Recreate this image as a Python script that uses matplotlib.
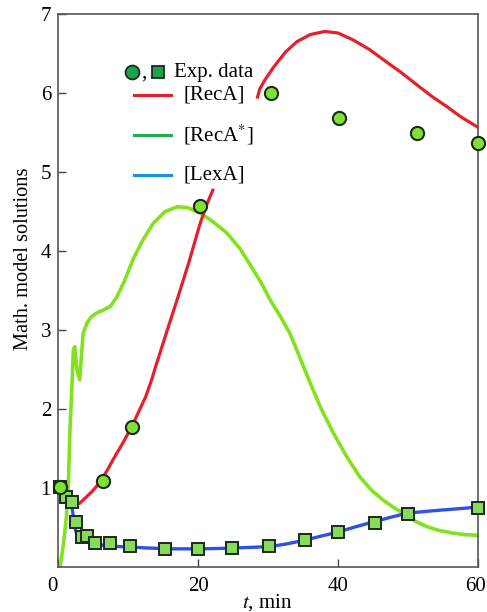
# RecA / RecA* / LexA model solutions vs experiment
import matplotlib
matplotlib.use('Agg')
import matplotlib.pyplot as plt
from matplotlib.lines import Line2D
from matplotlib.transforms import ScaledTranslation

plt.rcParams['font.family'] = ['Liberation Serif', 'DejaVu Serif']
plt.rcParams['mathtext.fontset'] = 'stix'

# model curves
t_reca1 = [0.5, 1.0, 1.5, 2.0, 2.4, 3.0, 3.5, 4.2, 4.8, 5.5, 6.0, 7.0, 8.0, 9.2, 10.5, 11.5,
           12.5, 13.3, 14.1, 15.5, 17.0, 18.7, 20.3, 21.2, 22.1]
reca1 = [1.0, 0.95, 0.88, 0.81, 0.78, 0.8, 0.84, 0.9, 0.95, 1.02, 1.08, 1.22, 1.38, 1.56, 1.77,
         1.96, 2.15, 2.35, 2.58, 2.97, 3.38, 3.86, 4.35, 4.58, 4.77]
t_reca2 = [28.5, 28.8, 29.5, 30.8, 32.5, 34.1, 36.0, 38.1, 40.0, 42.2, 44.5, 46.5, 49.0, 51.3,
           53.5, 55.5, 57.5, 59.9]
reca2 = [5.95, 6.05, 6.16, 6.33, 6.52, 6.65, 6.74, 6.78, 6.76, 6.67, 6.55, 6.42, 6.26, 6.1,
         5.95, 5.83, 5.7, 5.57]

t_recas = [0.3, 0.8, 1.2, 1.5, 1.7, 2.0, 2.2, 2.4, 2.7, 3.1, 3.6, 4.2, 4.8, 5.6, 6.4, 7.5, 8.4,
           9.5, 10.7, 12.0, 13.6, 15.3, 17.0, 18.5, 20.3, 22.0, 24.1, 26.0, 27.9, 29.0, 30.3,
           31.7, 33.1, 34.5, 36.0, 37.6, 39.3, 41.2, 43.1, 44.8, 46.4, 48.0, 49.3, 51.0, 52.7,
           54.5, 56.4, 58.0, 60.0]
recas = [0.0, 0.3, 0.63, 1.1, 1.7, 2.3, 2.75, 2.79, 2.5, 2.37, 2.96, 3.1, 3.17, 3.22, 3.25,
         3.3, 3.42, 3.62, 3.89, 4.12, 4.35, 4.5, 4.56, 4.55, 4.48, 4.38, 4.23, 4.03, 3.76, 3.6,
         3.38, 3.18, 2.96, 2.66, 2.33, 2.0, 1.7, 1.4, 1.14, 0.97, 0.85, 0.75, 0.68, 0.58, 0.51,
         0.46, 0.43, 0.41, 0.40]

t_lexa = [0.5, 1.0, 1.4, 1.7, 2.0, 2.2, 2.4, 2.6, 2.9, 3.4, 4.1, 5.0, 6.0, 7.2, 8.5, 10.7, 13.1,
          16.0, 20.3, 23.0, 25.0, 28.0, 30.3, 32.5, 35.3, 37.5, 39.9, 42.5, 45.0, 47.5, 49.8,
          52.0, 54.6, 57.5, 60.0]
lexa = [1.0, 0.95, 0.89, 0.84, 0.76, 0.64, 0.51, 0.44, 0.38, 0.35, 0.32, 0.3, 0.28, 0.27, 0.26,
        0.25, 0.24, 0.23, 0.23, 0.235, 0.24, 0.25, 0.26, 0.29, 0.34, 0.39, 0.44, 0.51, 0.57,
        0.63, 0.68, 0.7, 0.72, 0.74, 0.76]

# experimental points
t_exp_reca = [0.3, 6.5, 10.5, 20.3, 30.4, 40.1, 51.2, 60.0]
exp_reca = [1.01, 1.09, 1.77, 4.57, 6.0, 5.69, 5.5, 5.37]
t_exp_lexa = [0.3, 1.2, 2.0, 2.6, 3.4, 4.1, 5.3, 7.4, 10.3, 15.3, 20.0, 24.8, 30.1, 35.3,
              40.0, 45.3, 50.0, 60.0]
exp_lexa = [1.01, 0.89, 0.82, 0.57, 0.38, 0.39, 0.31, 0.30, 0.27, 0.23, 0.23, 0.24, 0.27, 0.34,
            0.44, 0.56, 0.67, 0.75]

fig = plt.figure(figsize=(4.87, 6.12), dpi=100)
ax = fig.add_axes([0.119, 0.0735, 0.863, 0.9035])

ax.plot(t_recas, recas, color='#82e21e', lw=2.6, zorder=2)
ax.plot(t_reca1, reca1, color='#e5202e', lw=2.3, zorder=3)
ax.plot(t_reca2, reca2, color='#e5202e', lw=2.3, zorder=3)
ax.plot(t_lexa, lexa, color='#2f52e6', lw=2.4, zorder=4)

ax.plot(t_exp_lexa, exp_lexa, 's', ms=8, mfc='#86dc5a', mec='#1c2a1c', mew=1.4, zorder=5, clip_on=False)
ax.plot(t_exp_reca, exp_reca, 'o', ms=9.5, mfc='#7ee234', mec='#1c2a1c', mew=1.5, zorder=6, clip_on=False)

ax.set_xlim(0, 60)
ax.set_ylim(0, 7)
ax.set_xticks([0, 20, 40, 60])
ax.set_yticks([1, 2, 3, 4, 5, 6, 7])
ax.tick_params(direction='in', length=6, width=1, labelsize=15, color='#444444')
ax.tick_params(axis='x', pad=7)
ax.tick_params(axis='y', pad=5)
xlabs = ax.get_xticklabels()
xlabs[0].set_horizontalalignment('right')
xlabs[-1].set_transform(xlabs[-1].get_transform() + ScaledTranslation(-2 / 72, 0, fig.dpi_scale_trans))
for s in ax.spines.values():
    s.set_color('#555555')
    s.set_linewidth(1.2)

ax.set_xlabel('$t$, min', fontsize=15)
ax.xaxis.label.set_va('center')
ax.xaxis.set_label_coords(0.498, -0.065)
ax.set_ylabel('Math. model solutions', fontsize=14.7)
ax.yaxis.label.set_va('center')
ax.yaxis.set_label_coords(-0.083, 0.557)

# hand-made legend (two markers for exp. data, then model lines)
tr = ax.transAxes
ax.add_line(Line2D([0.176], [0.895], marker='o', ms=10, mfc='#1aa34a', mec='#1c2a1c', mew=1.3, transform=tr))
ax.text(0.197, 0.893, ',', transform=tr, fontsize=15, va='center', ha='left')
ax.add_line(Line2D([0.238], [0.895], marker='s', ms=8.5, mfc='#1aa34a', mec='#1c2a1c', mew=1.3, transform=tr))
ax.text(0.277, 0.895, 'Exp. data', transform=tr, fontsize=15, va='center', ha='left')
legend_rows = [('[RecA]', '#e5202e', 0.854), ('[RecA$^{*}$]', '#1fae4f', 0.781), ('[LexA]', '#1a8fe6', 0.709)]
for lab, col, yy in legend_rows:
    ax.add_line(Line2D([0.181, 0.269], [yy, yy], color=col, lw=2.2, transform=tr))
    ax.text(0.298, yy, lab, transform=tr, fontsize=15, va='center', ha='left')

fig.savefig('out.png', dpi=100)
